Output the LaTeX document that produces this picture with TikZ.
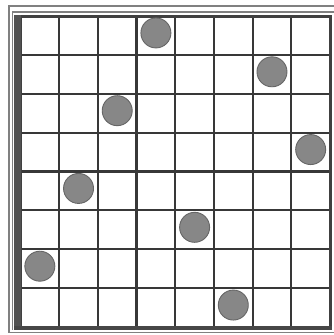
\documentclass[tikz,border=0pt]{standalone}
\begin{document}
\begin{tikzpicture}[x=1pt,y=-1pt,
  gridline/.style={draw=black!78, line width=2.2pt},
  frameline/.style={draw=black!50, line width=1.1pt},
  queen/.style={circle, minimum size=30pt, inner sep=0pt, fill=black!47, draw=black!60, line width=0.9pt}]
\useasboundingbox (0,0) rectangle (334,335);
\fill[white] (0,0) rectangle (334,335);
% outer double frame
\draw[frameline] (334,6) -- (9,6) -- (9,332.5) -- (334,332.5);
\draw[frameline] (334,12) -- (12.5,12) -- (12.5,330);
% grid
\foreach \i in {1,...,7} {
  \draw[gridline] ({20.5+\i*38.69},16) -- ({20.5+\i*38.69},327);
  \draw[gridline] (20.5,{16+\i*38.875}) -- (330,{16+\i*38.875});
}
\draw[draw=black!75, line width=3pt] (20.5,16) rectangle (330,327);
\fill[black!68] (14,14.5) rectangle (20.5,330);
\fill[black!72] (14,325.5) rectangle (331.5,330);
% queens (row, column)
\foreach \r/\c [count=\k] in {0/3,1/6,2/2,3/7,4/1,5/4,6/0,7/5} {
  \node[queen] (q\k) at ({20.5+(\c+0.5)*38.69},{16+(\r+0.5)*38.875-2.5}) {};
}
\end{tikzpicture}
\end{document}
